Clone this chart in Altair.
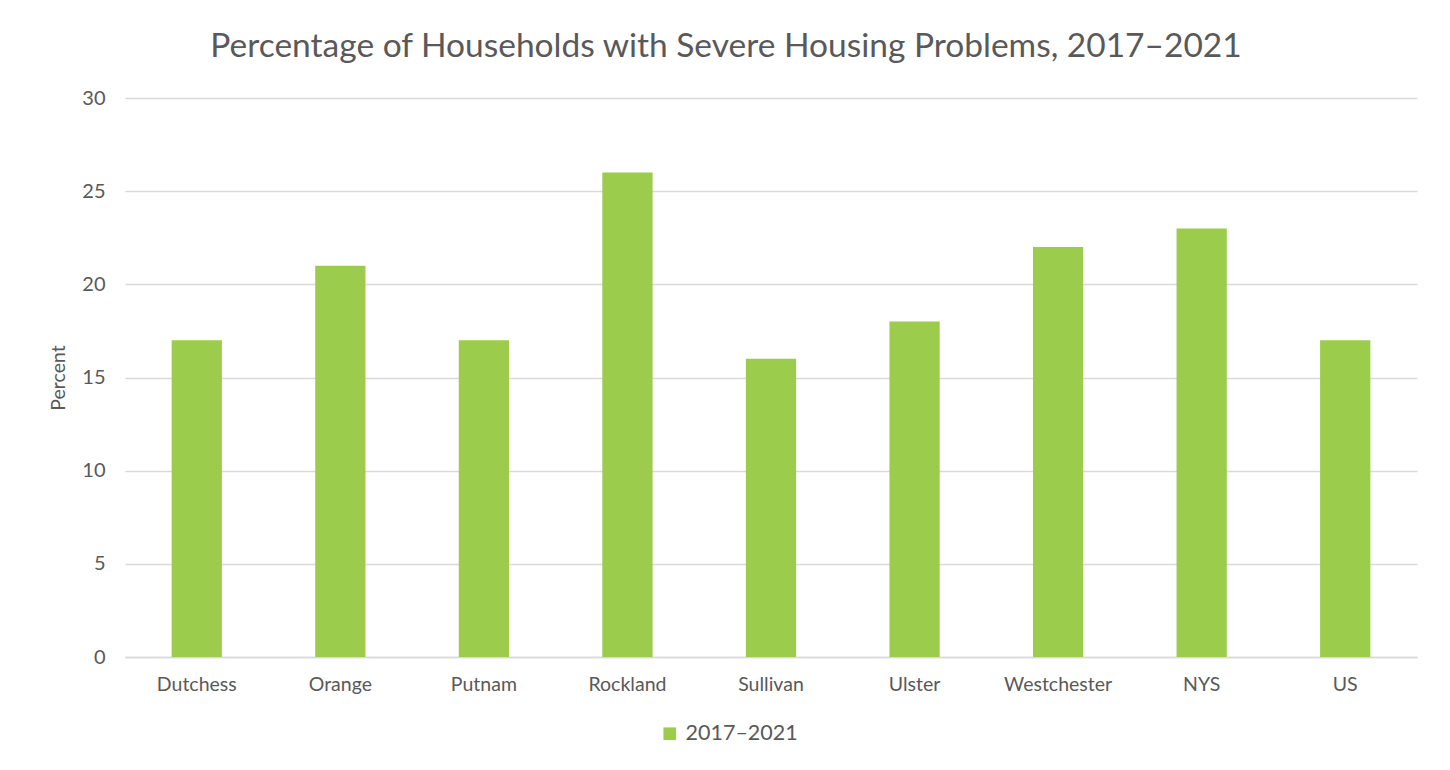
import altair as alt
import pandas as pd

regions = ["Dutchess", "Orange", "Putnam", "Rockland", "Sullivan", "Ulster", "Westchester", "NYS", "US"]
percent = [17, 21, 17, 26, 16, 18, 22, 23, 17]
period = "2017–2021"

df = pd.DataFrame({"Region": regions, "Percent": percent, "Period": [period] * len(regions)})

FONT = "Lato"
GREY = "#595959"

chart = alt.Chart(df).mark_bar(color="#9BCC4B").encode(
    x=alt.X("Region:N", sort=regions, title=None,
            scale=alt.Scale(paddingInner=0.65, paddingOuter=0.325),
            axis=alt.Axis(labelAngle=0, labelFontSize=19.5, labelColor=GREY, labelFont=FONT,
                          labelPadding=18, ticks=False, domainColor="#d9d9d9", domainWidth=1.5)),
    y=alt.Y("Percent:Q", title="Percent",
            scale=alt.Scale(domain=[0, 30]),
            axis=alt.Axis(values=[0, 5, 10, 15, 20, 25, 30], labelFontSize=20, labelColor=GREY,
                          labelFont=FONT, labelPadding=20, ticks=False, domain=False,
                          gridColor="#d9d9d9", gridWidth=1.5,
                          titleFontSize=19.5, titleFont=FONT, titleColor=GREY,
                          titleFontWeight="normal", titlePadding=13)),
    color=alt.Color("Period:N", scale=alt.Scale(range=["#9BCC4B"]),
                    legend=alt.Legend(title=None, orient="none", legendX=534, legendY=625,
                                      symbolType="square", symbolSize=160, symbolStrokeWidth=0,
                                      labelFontSize=21.5, labelFont=FONT, labelColor=GREY,
                                      labelOffset=5)),
).properties(
    width=1292,
    height=559,
    title=alt.TitleParams("Percentage of Households with Severe Housing Problems, 2017–2021",
                          fontSize=33.5, font=FONT, color=GREY, fontWeight="normal",
                          anchor="middle", dx=-45, offset=24),
    autosize=alt.AutoSizeParams(type="none"),
    padding={"left": 117, "top": 90, "right": 25, "bottom": 105},
).configure(background="white").configure_view(strokeWidth=0, stroke="transparent")

chart.save("out.html", embed_options={"renderer": "svg", "actions": False})
